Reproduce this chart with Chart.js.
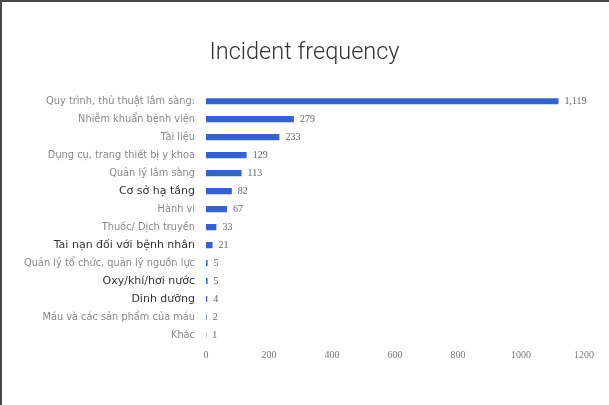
<!DOCTYPE html>
<html>
<head>
<meta charset="utf-8">
<script src="https://cdn.jsdelivr.net/npm/chart.js@4"></script>
<style>
  html, body { margin: 0; padding: 0; background: #fff; }
  #wrap { position: relative; width: 609px; height: 405px; }
  #frame { position: absolute; left: 0; top: 0; width: 609px; height: 405px;
           border-left: 2px solid #4a4a4a; border-top: 2px solid #4a4a4a; box-sizing: border-box; pointer-events: none; }
  canvas { position: absolute; left: 0; top: 0; }
</style>
</head>
<body>
<div id="wrap">
  <canvas id="chart" width="609" height="405"></canvas>
  <div id="frame"></div>
</div>
<script>
const categories = [
  "Quy trình, thủ thuật lâm sàng:",
  "Nhiễm khuẩn bệnh viện",
  "Tài liệu",
  "Dụng cụ, trang thiết bị y khoa",
  "Quản lý lâm sàng",
  "Cơ sở hạ tầng",
  "Hành vi",
  "Thuốc/ Dịch truyền",
  "Tai nạn đối với bệnh nhân",
  "Quản lý tổ chức, quản lý nguồn lực",
  "Oxy/khí/hơi nước",
  "Dinh dưỡng",
  "Máu và các sản phẩm của máu",
  "Khác"
];
const counts = [1119, 279, 233, 129, 113, 82, 67, 33, 21, 5, 5, 4, 2, 1];
const darkLabels = ["Cơ sở hạ tầng", "Tai nạn đối với bệnh nhân", "Oxy/khí/hơi nước", "Dinh dưỡng"];
const xMax = 1200;
const xStep = 200;

// value labels at the end of each bar
const valueLabels = {
  id: "valueLabels",
  afterDatasetsDraw(chart) {
    const ctx = chart.ctx;
    const meta = chart.getDatasetMeta(0);
    ctx.save();
    ctx.font = "10px 'Liberation Serif'";
    ctx.fillStyle = "#666";
    ctx.textBaseline = "middle";
    ctx.textAlign = "left";
    meta.data.forEach((bar, i) => {
      ctx.fillText(counts[i].toLocaleString("en-US"), bar.x + 6, bar.y);
    });
    ctx.restore();
  }
};

new Chart(document.getElementById("chart"), {
  type: "bar",
  data: {
    labels: categories,
    datasets: [{
      data: counts,
      backgroundColor: "#3462cf",
      borderWidth: 0,
      barPercentage: 0.34,
      categoryPercentage: 1
    }]
  },
  options: {
    indexAxis: "y",
    responsive: false,
    animation: false,
    layout: { padding: { left: 0, right: 0, top: 0, bottom: 39 } },
    plugins: {
      legend: { display: false },
      tooltip: { enabled: false },
      title: {
        display: true,
        text: "Incident frequency",
        color: "#333",
        font: { family: "Roboto", size: 23.5, weight: 300 },
        padding: { top: 39, bottom: 25 }
      }
    },
    scales: {
      x: {
        min: 0,
        max: xMax,
        ticks: {
          stepSize: xStep,
          color: "#777",
          font: { family: "Liberation Serif", size: 10 },
          padding: 5,
          callback: v => String(v)
        },
        grid: { display: false, drawTicks: false },
        border: { display: false },
        afterFit(axis) { axis.height = 22; }
      },
      y: {
        ticks: {
          color: c => darkLabels.includes(categories[c.index]) ? "#333" : "#888",
          font: c => darkLabels.includes(categories[c.index])
            ? { family: "DejaVu Sans", size: 11 }
            : { family: "DejaVu Sans", size: 9.8 },
          padding: 11,
          autoSkip: false
        },
        grid: { display: false, drawTicks: false },
        border: { display: false },
        afterFit(axis) { axis.width = 206; }
      },
      // empty right-hand axis, only reserves the right margin so the title stays centred on the page
      yRight: {
        type: "linear",
        position: "right",
        ticks: { display: false },
        grid: { display: false, drawTicks: false },
        border: { display: false },
        afterFit(axis) { axis.width = 25; }
      }
    }
  },
  plugins: [valueLabels]
});
</script>
</body>
</html>
